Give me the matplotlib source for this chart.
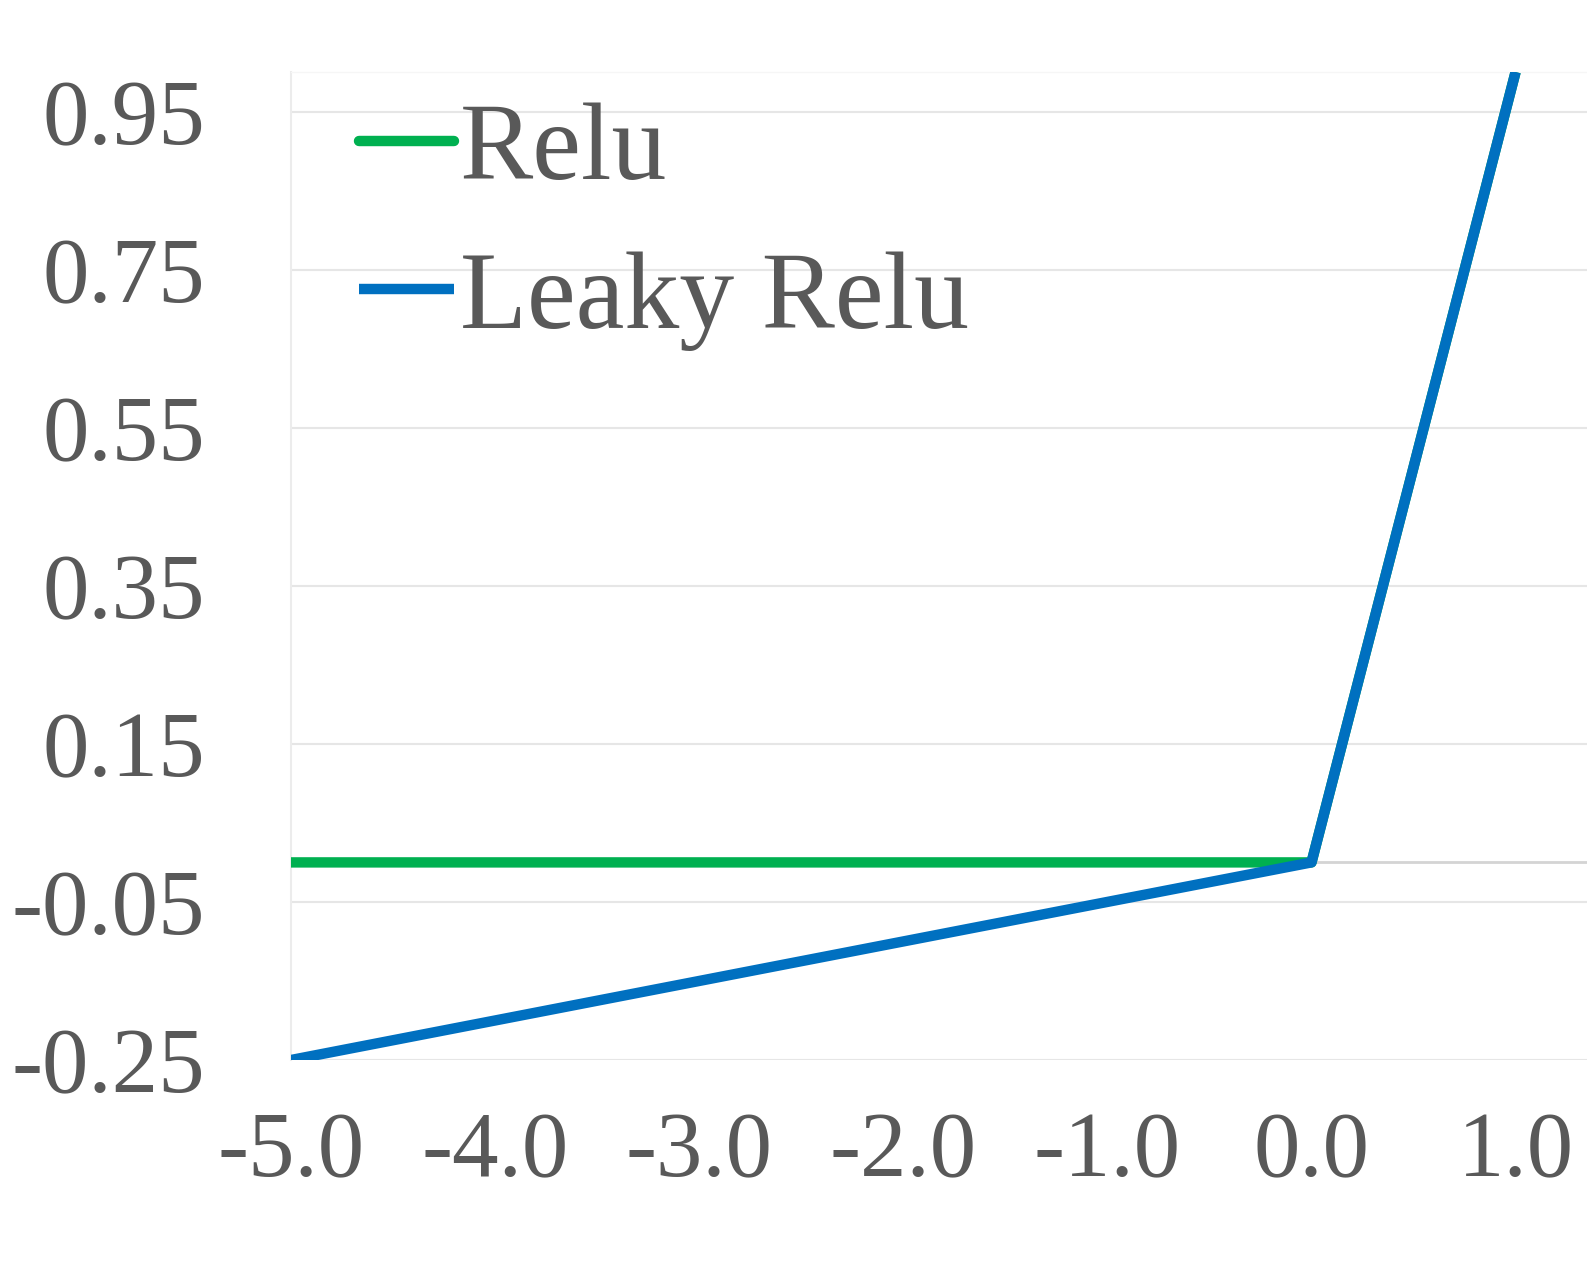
import matplotlib
matplotlib.use("Agg")
import matplotlib.pyplot as plt

# Data
x_vals = [-5.0, 0.0, 1.0]
relu_vals = [0.0, 0.0, 1.0]
leaky_vals = [-0.25, 0.0, 1.0]
x_ticks = [-5.0, -4.0, -3.0, -2.0, -1.0, 0.0, 1.0]
x_tick_labels = ["-5.0", "-4.0", "-3.0", "-2.0", "-1.0", "0.0", "1.0"]
y_ticks = [-0.25, -0.05, 0.15, 0.35, 0.55, 0.75, 0.95]
y_tick_labels = ["-0.25", "-0.05", "0.15", "0.35", "0.55", "0.75", "0.95"]
series_names = ["Relu", "Leaky Relu"]

TEXT = "#595959"
GREEN = "#00B050"
BLUE = "#0070C0"

plt.rcParams['font.family'] = ['Liberation Serif', 'DejaVu Serif']

W, H = 1587, 1278
fig = plt.figure(figsize=(W / 100, H / 100), dpi=100)
left_px, right_px, top_px, bottom_px = 291, 1587, 72, 1060
ax = fig.add_axes([left_px / W, 1 - bottom_px / H, (right_px - left_px) / W, (bottom_px - top_px) / H])

ax.set_xlim(-5.0, -5.0 + (right_px - left_px) / 204.1)
ax.set_ylim(-0.25, 1.0)

for yt in y_ticks:
    ax.axhline(yt, color="#e6e6e6", lw=1.5, zorder=1)
ax.axhline(0.0, color="#d4d4d4", lw=2.0, zorder=1.5)

ax.plot(x_vals, relu_vals, color=GREEN, lw=7.5, solid_capstyle="butt", label=series_names[0], zorder=3)
ax.plot(x_vals, leaky_vals, color=BLUE, lw=7.5, solid_capstyle="butt", label=series_names[1], zorder=4)

ax.set_xticks(x_ticks)
ax.set_xticklabels(x_tick_labels)
ax.set_yticks(y_ticks)
ax.set_yticklabels(y_tick_labels)
ax.tick_params(axis="x", length=0, pad=37, labelsize=67, labelcolor=TEXT)
ax.tick_params(axis="y", length=0, pad=62, labelsize=67, labelcolor=TEXT)

for s in ["right", "bottom"]:
    ax.spines[s].set_visible(False)
ax.spines["left"].set_color("#ececec")
ax.spines["left"].set_linewidth(1.5)
ax.spines["top"].set_color("#f6f6f6")
ax.spines["top"].set_linewidth(1.0)

leg = ax.legend(loc="upper left", bbox_to_anchor=(0.0525, 0.969), frameon=False,
                fontsize=79, handlelength=0.87, handletextpad=0.05,
                labelspacing=0.44, borderpad=0, borderaxespad=0)
for t in leg.get_texts():
    t.set_color(TEXT)
legend_lines = leg.get_lines()
for h, cap in zip(legend_lines, ["round", "butt"]):
    h.set_linewidth(7.5)
    h.set_solid_capstyle(cap)

fig.savefig("out.png", dpi=100, facecolor="white")
